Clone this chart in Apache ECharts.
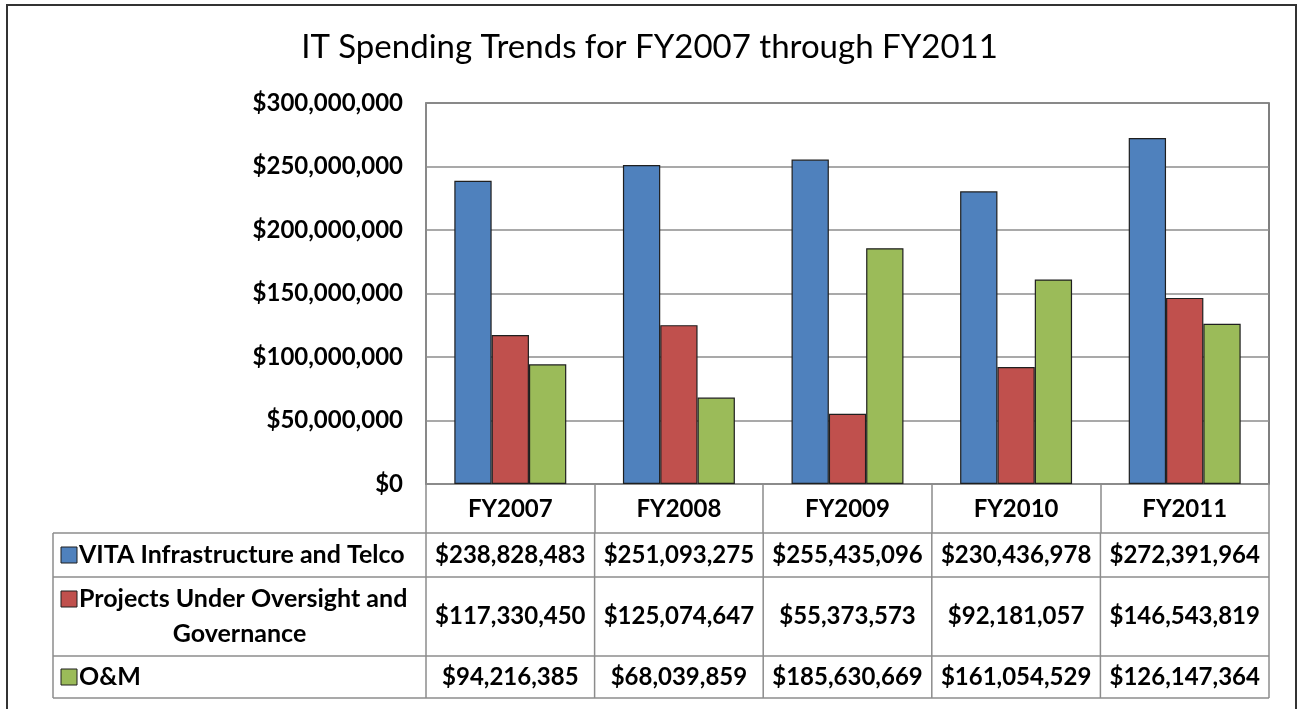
<!DOCTYPE html>
<html>
<head>
<meta charset="utf-8">
<script src="https://cdn.jsdelivr.net/npm/echarts@6/dist/echarts.min.js"></script>
<style>
  html, body { margin: 0; padding: 0; background: #fff; }
  #chart { width: 1299px; height: 709px; }
</style>
</head>
<body>
<div id="chart"></div>
<script>
// Fiscal years and spending per category (US dollars)
const categories = ['FY2007', 'FY2008', 'FY2009', 'FY2010', 'FY2011'];
const vitaValues = [238828483, 251093275, 255435096, 230436978, 272391964];
const projectValues = [117330450, 125074647, 55373573, 92181057, 146543819];
const omValues = [94216385, 68039859, 185630669, 161054529, 126147364];
const seriesLabels = ['VITA Infrastructure and Telco', 'Projects Under Oversight and\nGovernance', 'O&M'];
const seriesColors = ['#4F81BD', '#C0504D', '#9BBB59'];
const yTicks = [0, 50000000, 100000000, 150000000, 200000000, 250000000, 300000000];

const FONT = 'Lato';
const TEXT_SIZE = 24;
const GRID_COLOR = '#8c8c8c';

function money(v) {
  return '$' + String(v).replace(/\B(?=(\d{3})+(?!\d))/g, ',');
}

const seriesValues = [vitaValues, projectValues, omValues];

const chart = echarts.init(document.getElementById('chart'), null, { renderer: 'canvas' });

const grid = { left: 426, top: 103, width: 843, height: 381 };

chart.setOption({
  animation: false,
  backgroundColor: '#fff',
  title: {
    text: 'IT Spending Trends for FY2007 through FY2011',
    left: 'center',
    top: 26,
    textStyle: { fontFamily: FONT, fontSize: 33, fontWeight: 'normal', color: '#000' }
  },
  grid: Object.assign({ show: true, borderColor: '#555', borderWidth: 1.5, backgroundColor: '#fff' }, grid),
  xAxis: {
    type: 'category',
    data: categories,
    axisLine: { show: true, lineStyle: { color: GRID_COLOR, width: 1.5 } },
    axisTick: { show: true, length: 49, lineStyle: { color: GRID_COLOR, width: 1.5 } },
    axisLabel: {
      margin: 25, verticalAlign: 'middle',
      fontFamily: FONT, fontSize: TEXT_SIZE, fontWeight: 'bold', color: '#000'
    }
  },
  yAxis: {
    type: 'value',
    min: yTicks[0],
    max: yTicks[yTicks.length - 1],
    interval: yTicks[1] - yTicks[0],
    axisLine: { show: true, lineStyle: { color: GRID_COLOR, width: 1.5 } },
    axisTick: { show: false },
    splitLine: { show: true, lineStyle: { color: GRID_COLOR, width: 1.5 } },
    axisLabel: {
      margin: 23,
      fontFamily: FONT, fontSize: TEXT_SIZE, fontWeight: 'bold', color: '#000',
      formatter: money
    }
  },
  series: seriesValues.map((vals, i) => ({
    type: 'bar',
    name: seriesLabels[i].replace('\n', ' '),
    data: vals,
    barGap: '0%',
    barCategoryGap: '33.6%',
    itemStyle: { color: seriesColors[i], borderColor: '#1f1f1f', borderWidth: 1.2 }
  }))
});

// Data table beneath the plot, aligned with the category bands of the x axis
(function drawTable() {
  const c0 = chart.convertToPixel({ xAxisIndex: 0 }, categories[0]);
  const c1 = chart.convertToPixel({ xAxisIndex: 0 }, categories[1]);
  const band = c1 - c0;
  const plotLeft = c0 - band / 2;
  const plotRight = plotLeft + band * categories.length;
  const tableLeft = 53;
  const rowEdges = [533, 577, 656, 698];
  const els = [];
  const lineStyle = { stroke: GRID_COLOR, lineWidth: 1.5 };

  rowEdges.forEach(y => {
    els.push({ type: 'line', shape: { x1: tableLeft, y1: y, x2: plotRight, y2: y }, style: lineStyle, silent: true });
  });
  const vx = [tableLeft];
  for (let i = 0; i <= categories.length; i++) vx.push(plotLeft + band * i);
  vx.forEach(x => {
    els.push({ type: 'line', shape: { x1: x, y1: rowEdges[0], x2: x, y2: rowEdges[rowEdges.length - 1] }, style: lineStyle, silent: true });
  });

  const textBase = { fontFamily: FONT, fontSize: TEXT_SIZE, fontWeight: 'bold', fill: '#000' };
  const labelBase = Object.assign({}, textBase, { fontSize: 25 });
  const labelCenter = (tableLeft + plotLeft) / 2;

  seriesValues.forEach((vals, r) => {
    const top = rowEdges[r], bottom = rowEdges[r + 1];
    const mid = (top + bottom) / 2;
    const lines = seriesLabels[r].split('\n');
    const lh = 35;
    const firstY = mid - (lines.length - 1) * lh / 2;
    // legend key
    els.push({
      type: 'rect',
      shape: { x: 61, y: firstY - 8, width: 16, height: 16 },
      style: { fill: seriesColors[r], stroke: '#1f1f1f', lineWidth: 1 },
      silent: true
    });
    lines.forEach((ln, k) => {
      const y = firstY + k * lh;
      els.push({
        type: 'text',
        x: k === 0 ? 79 : labelCenter, y: y,
        style: Object.assign({ text: ln, align: k === 0 ? 'left' : 'center', verticalAlign: 'middle' }, labelBase),
        silent: true
      });
    });
    vals.forEach((v, i) => {
      const cx = chart.convertToPixel({ xAxisIndex: 0 }, categories[i]);
      els.push({
        type: 'text', x: cx, y: mid,
        style: Object.assign({ text: money(v), align: 'center', verticalAlign: 'middle' }, textBase),
        silent: true
      });
    });
  });

  // outer chart frame
  els.push({
    type: 'rect',
    shape: { x: 7, y: 5, width: 1289, height: 730 },
    style: { fill: null, stroke: '#333', lineWidth: 2 },
    silent: true
  });

  chart.setOption({ graphic: els });
})();
</script>
</body>
</html>
